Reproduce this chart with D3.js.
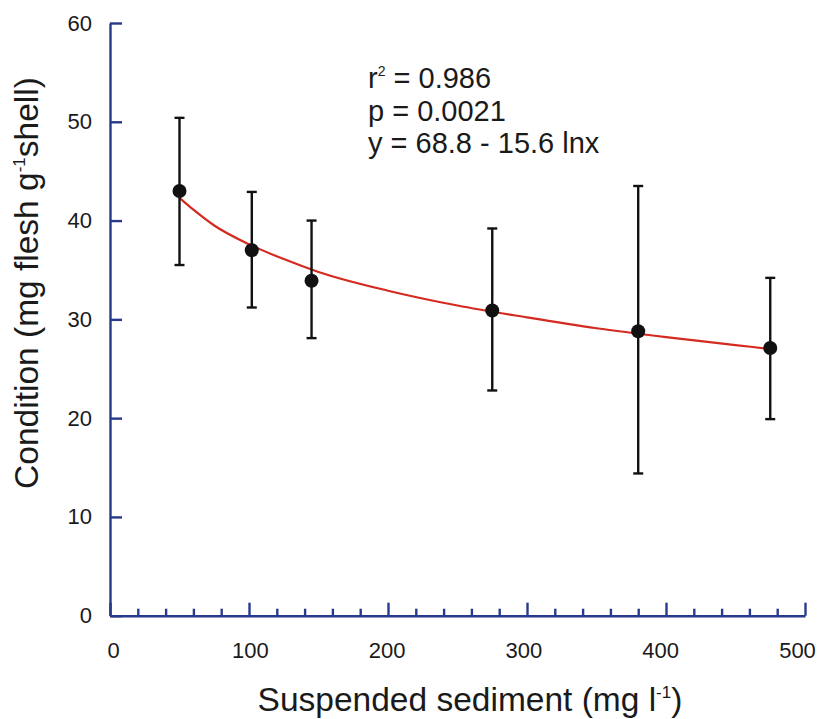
<!DOCTYPE html>
<html>
<head>
<meta charset="utf-8">
<script src="https://cdn.jsdelivr.net/npm/d3@7/dist/d3.min.js"></script>
<style>
  html, body { margin: 0; padding: 0; background: #fff; }
  svg { display: block; font-family: "Liberation Sans", Arial, Helvetica, sans-serif; }
</style>
</head>
<body>
<svg id="chart" width="824" height="719"></svg>
<script>
// ---- data ----
const sediment = [50, 102, 145, 275, 380, 475];          // mg l-1
const condition = [43.0, 37.0, 33.9, 30.9, 28.8, 27.1];  // mg flesh g-1 shell
const errUpper = [50.4, 42.9, 40.0, 39.2, 43.5, 34.2];
const errLower = [35.5, 31.2, 28.1, 22.8, 14.4, 19.9];

// fitted curve
const fitX = [50, 60, 75, 100, 125, 150, 200, 250, 300, 350, 400, 450, 475];
const fitY = [42.3, 41.1, 39.5, 37.6, 36.1, 34.8, 32.9, 31.4, 30.2, 29.1, 28.2, 27.4, 27.0];

const xMajorTicks = [0, 100, 200, 300, 400, 500];
const xMinorTicks = [20, 40, 60, 80, 120, 140, 160, 180, 220, 240, 260, 280, 320, 340, 360, 380, 420, 440, 460, 480];
const yTicks = [0, 10, 20, 30, 40, 50, 60];

const statLines = ["r", "p = 0.0021", "y = 68.8 - 15.6 lnx"];

// ---- drawing ----
const svg = d3.select("#chart");
const axisColor = "#283a8c";

const x = d3.scaleLinear().domain([0, 500]).range([110, 805]);
const xLabel = d3.scaleLinear().domain([0, 500]).range([113, 797]);
const y = d3.scaleLinear().domain([0, 60]).range([615.7, 23]);

// y axis
svg.append("g")
  .attr("transform", `translate(${x(0)},0)`)
  .call(d3.axisLeft(y).tickValues(yTicks).tickSizeInner(-12).tickSizeOuter(0).tickPadding(18));

// x axis major
const xAxis = svg.append("g")
  .attr("transform", `translate(0,${y(0)})`)
  .call(d3.axisBottom(x).tickValues(xMajorTicks).tickSizeInner(-13).tickSizeOuter(0).tickPadding(27));
xAxis.selectAll(".tick text").attr("x", d => xLabel(d) - x(d));

// x axis minor
svg.append("g")
  .attr("transform", `translate(0,${y(0)})`)
  .call(d3.axisBottom(x).tickValues(xMinorTicks).tickSizeInner(-7).tickSizeOuter(0).tickFormat(""))
  .select(".domain").remove();

svg.selectAll(".domain").attr("stroke", axisColor).attr("stroke-width", 2.4);
svg.selectAll(".tick line").attr("stroke", axisColor).attr("stroke-width", 2.4);
svg.selectAll(".tick text")
  .attr("fill", "#1a1a1a")
  .style("font-size", "22px");

// fitted curve
const line = d3.line()
  .x((d, i) => x(fitX[i]))
  .y(d => y(d))
  .curve(d3.curveMonotoneX);
svg.append("path")
  .datum(fitY)
  .attr("d", line)
  .attr("fill", "none")
  .attr("stroke", "#d42a1f")
  .attr("stroke-width", 2.2);

// error bars
const eb = svg.append("g").attr("stroke", "#111").attr("stroke-width", 2.4);
sediment.forEach((s, i) => {
  eb.append("line").attr("x1", x(s)).attr("x2", x(s)).attr("y1", y(errUpper[i])).attr("y2", y(errLower[i]));
  eb.append("line").attr("x1", x(s) - 5).attr("x2", x(s) + 5).attr("y1", y(errUpper[i])).attr("y2", y(errUpper[i]));
  eb.append("line").attr("x1", x(s) - 5).attr("x2", x(s) + 5).attr("y1", y(errLower[i])).attr("y2", y(errLower[i]));
});

// points
svg.append("g").selectAll("circle")
  .data(condition)
  .join("circle")
  .attr("cx", (d, i) => x(sediment[i]))
  .attr("cy", d => y(d))
  .attr("r", 7)
  .attr("fill", "#111");

// statistics text
const stats = svg.append("text")
  .attr("fill", "#1a1a1a")
  .style("font-size", "29px");
const l1 = stats.append("tspan").attr("x", 368).attr("y", 88);
l1.append("tspan").text(statLines[0]);
l1.append("tspan").attr("dy", -12).style("font-size", "14px").text("2");
l1.append("tspan").attr("dy", 12).text(" = 0.986");
stats.append("tspan").attr("x", 368).attr("y", 120.5).text(statLines[1]);
stats.append("tspan").attr("x", 368).attr("y", 153).text(statLines[2]);

// x title
const xt = svg.append("text")
  .attr("x", 470).attr("y", 711)
  .attr("text-anchor", "middle")
  .attr("fill", "#1a1a1a")
  .style("font-size", "33.5px");
xt.append("tspan").text("Suspended sediment (mg l");
xt.append("tspan").attr("dy", -13).style("font-size", "17px").text("-1");
xt.append("tspan").attr("dy", 13).text(")");

// y title
const yt = svg.append("text")
  .attr("transform", "translate(38,283) rotate(-90)")
  .attr("text-anchor", "middle")
  .attr("fill", "#1a1a1a")
  .style("font-size", "33.5px");
yt.append("tspan").text("Condition (mg flesh g");
yt.append("tspan").attr("dy", -13).style("font-size", "17px").text("-1");
yt.append("tspan").attr("dy", 13).text("shell)");
</script>
</body>
</html>
